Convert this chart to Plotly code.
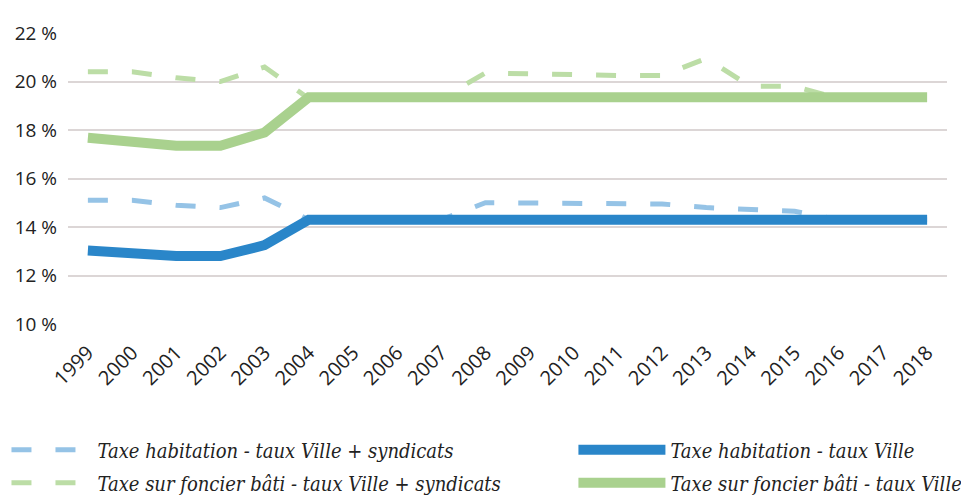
import plotly.graph_objects as go

years = [str(y) for y in range(1999, 2019)]

th_ville_synd = [15.1, 15.1, 14.9, 14.8, 15.2, 14.3, 14.3, 14.3, 14.3, 15.0,
                 15.0, 15.0, 15.0, 14.95, 14.8, 14.7, 14.65, 14.3, 14.3, 14.3]
th_ville = [13.03, 12.9, 12.8, 12.8, 13.25, 14.3, 14.3, 14.3, 14.3, 14.3,
            14.3, 14.3, 14.3, 14.3, 14.3, 14.3, 14.3, 14.3, 14.3, 14.3]
tfb_ville_synd = [20.4, 20.4, 20.15, 20.0, 20.6, 19.3, 19.3, 19.3, 19.3, 20.35,
                  20.3, 20.3, 20.25, 20.25, 20.95, 19.8, 19.8, 19.3, 19.3, 19.3]
tfb_ville = [17.68, 17.5, 17.35, 17.35, 17.9, 19.35, 19.35, 19.35, 19.35, 19.35,
             19.35, 19.35, 19.35, 19.35, 19.35, 19.35, 19.35, 19.35, 19.35, 19.35]

y_ticks = [10, 12, 14, 16, 18, 20, 22]
y_tick_labels = [f"{v} %" for v in y_ticks]

blue = "#2a86c9"
blue_light = "#95c3e6"
green = "#a9d18e"
green_light = "#bcdda6"

fig = go.Figure()

fig.add_trace(go.Scatter(
    x=years, y=th_ville_synd, mode="lines",
    name="Taxe habitation - taux Ville + syndicats",
    line=dict(color=blue_light, width=5, dash="20px,24px"),
    legend="legend", legendgroup="a"))
fig.add_trace(go.Scatter(
    x=years, y=tfb_ville_synd, mode="lines",
    name="Taxe sur foncier bâti - taux Ville + syndicats",
    line=dict(color=green_light, width=5, dash="20px,24px"),
    legend="legend", legendgroup="b"))
fig.add_trace(go.Scatter(
    x=years, y=th_ville, mode="lines",
    name="Taxe habitation - taux Ville",
    line=dict(color=blue, width=10),
    legend="legend2", legendgroup="c"))
fig.add_trace(go.Scatter(
    x=years, y=tfb_ville, mode="lines",
    name="Taxe sur foncier bâti - taux Ville",
    line=dict(color=green, width=10),
    legend="legend2", legendgroup="d"))

legend_font = dict(family="DejaVu Serif Condensed, DejaVu Serif, serif",
                   size=20, color="#222222", style="italic")

# page body has an 8px default margin, so the figure is drawn 8px in
fig.update_layout(
    width=961, height=488,
    margin=dict(l=60, r=22, t=25, b=172, autoexpand=False),
    paper_bgcolor="white", plot_bgcolor="white",
    showlegend=True,
    legend=dict(x=-0.07, y=-0.365, xanchor="left", yanchor="top",
                orientation="v", font=legend_font, tracegroupgap=4,
                itemwidth=81, bgcolor="rgba(0,0,0,0)"),
    legend2=dict(x=0.575, y=-0.365, xanchor="left", yanchor="top",
                 orientation="v", font=legend_font, tracegroupgap=4,
                 itemwidth=87, bgcolor="rgba(0,0,0,0)"),
    xaxis=dict(type="category", range=[-0.45, 19.45], tickangle=-45,
               showgrid=False, zeroline=False, showline=False, ticks="",
               ticklabelstandoff=12,
               tickfont=dict(family="Open Sans, Lato, sans-serif", size=20, color="#222222")),
    yaxis=dict(range=[10, 22], tickvals=y_ticks, ticktext=y_tick_labels,
               showgrid=True, gridcolor="#dcd6d6", gridwidth=1.5,
               zeroline=False, showline=False, ticks="",
               ticklabelstandoff=10,
               tickfont=dict(family="Open Sans, Lato, sans-serif", size=19, color="#222222")),
)

fig.write_html("out.html")
